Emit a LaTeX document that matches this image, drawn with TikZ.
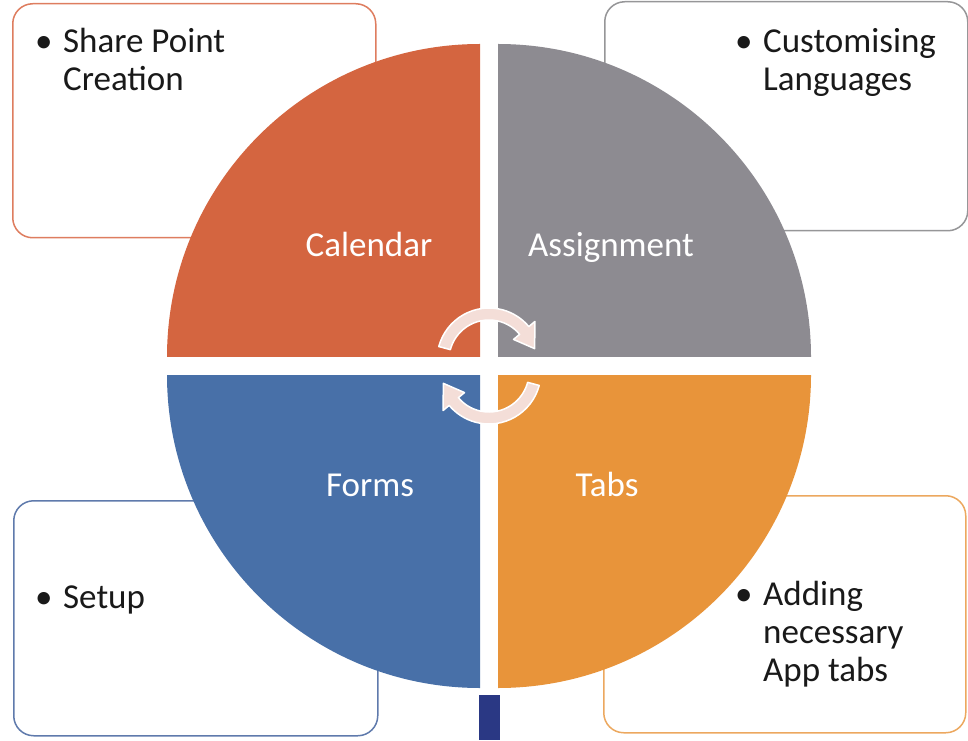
\documentclass[tikz,border=0pt]{standalone}
\usepackage{fontspec}
\setmainfont{Carlito}
\usetikzlibrary{calc}

\definecolor{calcol}{RGB}{212,101,64}
\definecolor{asscol}{RGB}{141,139,145}
\definecolor{formcol}{RGB}{72,112,168}
\definecolor{tabcol}{RGB}{232,148,58}
\definecolor{calline}{RGB}{222,125,95}
\definecolor{assline}{RGB}{150,150,152}
\definecolor{formline}{RGB}{95,122,172}
\definecolor{tabline}{RGB}{236,168,95}
\definecolor{arrcol}{RGB}{244,222,216}
\definecolor{navy}{RGB}{42,56,132}
\definecolor{ink}{RGB}{25,25,25}

\newcommand{\blist}[1]{\begin{tabular}[t]{@{}p{28pt}@{}l@{}}\textbullet&#1\end{tabular}}

\tikzset{
  box/.style={draw, fill=white, line width=1.5pt, rounded corners=20pt,
    inner sep=0pt, anchor=north west},
  item/.style={text=ink, inner sep=0pt, anchor=base west,
    font=\fontsize{35}{38}\selectfont},
  lbl/.style={text=white, inner sep=0pt, anchor=base,
    font=\fontsize{35}{38}\selectfont}
}

\begin{document}
\begin{tikzpicture}[x=1pt,y=1pt]
  \useasboundingbox (0,0) rectangle (968,740);
  % side boxes
  \node[box, draw=calline, minimum width=363, minimum height=234] (bsp) at (12,737) {};
  \node[box, draw=assline, minimum width=363, minimum height=229] (blang) at (604,739) {};
  \node[box, draw=formline, minimum width=364, minimum height=235] (bset) at (13,240) {};
  \node[box, draw=tabline, minimum width=362, minimum height=237] (bapp) at (603,245) {};
  \node[item] (tsp) at ([shift={(23,-50)}]bsp.north west) {\blist{Share Point\\&Creation}};
  \node[item] (tlang) at ([shift={(131,-52)}]blang.north west) {\blist{Customising\\&Languages}};
  \node[item] (tset) at ([shift={(22,-108)}]bset.north west) {\blist{Setup}};
  \node[item] (tapp) at ([shift={(132,-110)}]bapp.north west) {\blist{Adding\\&necessary\\&App tabs}};
  % quarter disks
  \coordinate (c) at (489,374);
  \foreach \s/\col in {90/calcol, 0/asscol, 180/formcol, 270/tabcol}
  {
    \fill[\col] ($(c)+(\s+45:12.73)$) -- ++(\s:313) arc (\s:\s+90:313) -- cycle;
  }
  \node[lbl] (cal) at (369,483) {Calendar};
  \node[lbl] (ass) at (611,483) {Assignment};
  \node[lbl] (frm) at (370,244) {Forms};
  \node[lbl] (tab) at (607,244) {Tabs};
  % cycle arrows
  \coordinate (au) at (489,380);
  \coordinate (al) at (489,368);
  \filldraw[fill=arrcol, draw=white, line width=1.5pt, line join=round]
    ($(au)+(165:52)$) arc (165:40:52) -- ($(au)+(40:60)$) -- ($(au)+(14:47)$)
    -- ($(au)+(40:32)$) -- ($(au)+(40:40)$) arc (40:165:40) -- cycle;
  \filldraw[fill=arrcol, draw=white, line width=1.5pt, line join=round]
    ($(al)+(345:52)$) arc (345:220:52) -- ($(al)+(220:60)$) -- ($(al)+(194:47)$)
    -- ($(al)+(220:32)$) -- ($(al)+(220:40)$) arc (220:345:40) -- cycle;
  % bar below
  \fill[navy] (479,0) rectangle (500,45);
\end{tikzpicture}
\end{document}
